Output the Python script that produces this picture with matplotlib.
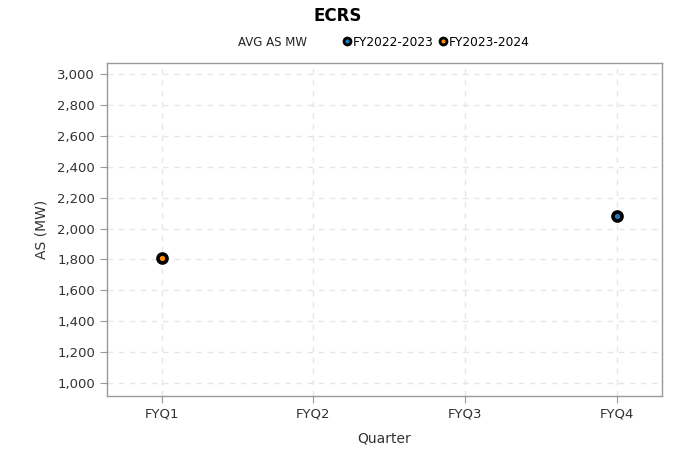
import matplotlib
matplotlib.use("Agg")
import matplotlib.pyplot as plt
from matplotlib.lines import Line2D

quarters = ["FYQ1", "FYQ2", "FYQ3", "FYQ4"]
series_names = ["FY2022-2023", "FY2023-2024"]
fy2022_quarters = ["FYQ4"]
fy2022_values = [2081]
fy2023_quarters = ["FYQ1"]
fy2023_values = [1809]
colors = ["#1f77b4", "#ff8c00"]

plt.rcParams['font.family'] = ['DejaVu Sans']
fig = plt.figure(figsize=(6.75, 4.54), dpi=100)
ax = fig.add_axes([0.1585, 0.1278, 0.8225, 0.7332])

xpos = {q: i for i, q in enumerate(quarters)}
for qs, vals, c in [(fy2022_quarters, fy2022_values, colors[0]),
                    (fy2023_quarters, fy2023_values, colors[1])]:
    ax.plot([xpos[q] for q in qs], vals, 'o', ms=6.5, mfc=c, mec='black', mew=2.6,
            linestyle='none', zorder=3)

ax.set_xticks(range(len(quarters)))
ax.set_xticklabels(quarters)
ax.set_xlim(-0.36, 3.30)
ax.set_ylim(916, 3071)
ax.set_yticks(range(1000, 3001, 200))
ax.set_yticklabels([f"{v:,}" for v in range(1000, 3001, 200)])
ax.grid(True, color='#e6e6e6', linestyle=(0, (4, 4)), linewidth=1)
for s in ax.spines.values():
    s.set_color('#999999')
    s.set_linewidth(1)
ax.tick_params(colors='#999999', labelcolor='#333333', labelsize=9.5, length=5)
ax.set_xlabel("Quarter", fontsize=10, color='#333333', labelpad=8)
ax.set_ylabel("AS (MW)", fontsize=10, color='#333333', labelpad=6)

fig.text(0.5, 0.965, "ECRS", ha='center', va='center', fontsize=12, fontweight='bold')
fig.text(0.403, 0.907, "AVG AS MW", ha='center', va='center', fontsize=8.5, color='#222222')
handles = [Line2D([], [], marker='o', ms=5, mfc=c, mec='black', mew=2, linestyle='none')
           for c in colors]
fig.legend(handles, series_names, loc='center left', bbox_to_anchor=(0.507, 0.907),
           ncol=2, frameon=False, fontsize=8.8, handletextpad=0.1, columnspacing=0.3,
           handlelength=0.8, borderaxespad=0, borderpad=0)

fig.savefig("out.png", dpi=100)
